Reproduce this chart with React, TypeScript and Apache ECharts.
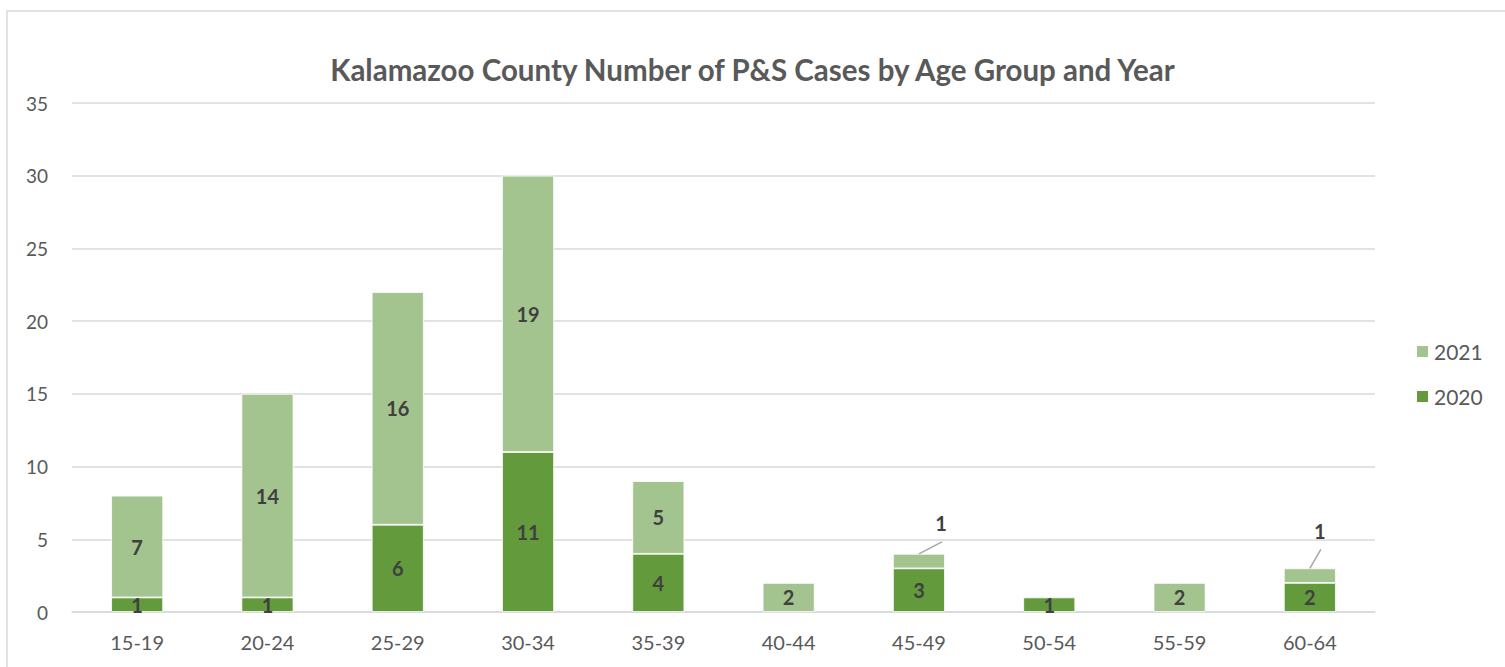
import React, { useEffect, useRef } from "react";
import * as echarts from "echarts";

const categories = ["15-19", "20-24", "25-29", "30-34", "35-39", "40-44", "45-49", "50-54", "55-59", "60-64"];
const values2020 = [1, 1, 6, 11, 4, 0, 3, 1, 0, 2];
const values2021 = [7, 14, 16, 19, 5, 2, 1, 0, 2, 1];
const yTicks = { min: 0, max: 35, interval: 5 };

const FONT = "Lato, 'Noto Sans', sans-serif";
const DARK = "#629a3c";
const LIGHT = "#a3c48f";

export default function App() {
  const ref = useRef<HTMLDivElement>(null);
  useEffect(() => {
    if (!ref.current) return;
    const chart = echarts.init(ref.current, null, { renderer: "svg" });
    const labelBase = {
      show: true,
      position: "inside" as const,
      fontFamily: FONT,
      fontSize: 20,
      fontWeight: "bold" as const,
      color: "#404040",
      formatter: (p: any) => (p.value ? String(p.value) : ""),
    };
    const outsideIdx = [6, 9];
    const callout: Record<number, { lx: number; ly: number; ex: number; ey: number }> = {
      6: { lx: 22, ly: -31, ex: 23, ey: -12 },
      9: { lx: 10, ly: -37, ex: 11, ey: -19 },
    };
    const calloutData = outsideIdx.map((i) => [i, values2020[i] + values2021[i]]);
    chart.setOption({
      animation: false,
      textStyle: { fontFamily: FONT },
      title: {
        text: "Kalamazoo County Number of P&S Cases by Age Group and Year",
        left: "center",
        top: 49,
        textStyle: { fontFamily: FONT, fontSize: 29.5, fontWeight: "bold", color: "#595959" },
      },
      legend: {
        orient: "vertical",
        left: 1410,
        top: 336,
        itemGap: 24,
        itemWidth: 13,
        itemHeight: 13,
        icon: "rect",
        data: ["2021", "2020"],
        textStyle: { fontFamily: FONT, fontSize: 21, color: "#595959" },
      },
      graphic: [
        {
          type: "rect",
          shape: { x: 7, y: 11, width: 1530, height: 700 },
          style: { fill: "none", stroke: "#d9d9d9", lineWidth: 1.5 },
          silent: true,
        },
      ],
      grid: { left: 72, right: 130, top: 103, bottom: 55, containLabel: false },
      xAxis: {
        type: "category",
        data: categories,
        axisLine: { lineStyle: { color: "#d9d9d9", width: 1.5 } },
        axisTick: { show: false },
        axisLabel: { color: "#595959", fontSize: 20, fontFamily: FONT, margin: 20 },
      },
      yAxis: {
        type: "value",
        min: yTicks.min,
        max: yTicks.max,
        interval: yTicks.interval,
        axisLine: { show: false },
        axisTick: { show: false },
        splitLine: { lineStyle: { color: "#d9d9d9", width: 1.5 } },
        axisLabel: { color: "#595959", fontSize: 19, fontFamily: FONT, margin: 24 },
      },
      series: [
        {
          name: "2020",
          type: "bar",
          stack: "total",
          barWidth: 52,
          itemStyle: { color: DARK, borderColor: "#ffffff", borderWidth: 0.8 },
          label: labelBase,
          data: values2020.map((v) => (v === 0 ? "-" : v)),
        },
        {
          name: "2021",
          type: "bar",
          stack: "total",
          barWidth: 52,
          itemStyle: { color: LIGHT, borderColor: "#ffffff", borderWidth: 0.8 },
          label: labelBase,
          labelLayout: (p: any) => {
            const c = callout[p.dataIndex];
            if (!c || !p.rect) return {};
            const cx = p.rect.x + p.rect.width / 2;
            return { x: cx + c.lx, y: p.rect.y + c.ly, align: "center", verticalAlign: "middle" };
          },
          data: values2021.map((v) => (v === 0 ? "-" : v)),
        },
        {
          name: "callouts",
          type: "custom",
          silent: true,
          z: 5,
          data: calloutData,
          renderItem: (params: any, api: any) => {
            const idx = api.value(0);
            const c = callout[idx];
            const pt = api.coord([idx, api.value(1)]);
            return {
              type: "line",
              shape: { x1: pt[0], y1: pt[1], x2: pt[0] + c.ex, y2: pt[1] + c.ey },
              style: { stroke: "#a6a6a6", lineWidth: 1.5 },
            };
          },
        },
      ],
    });
    return () => chart.dispose();
  }, []);
  return (
    <div
      ref={ref}
      style={{ position: "fixed", left: 0, top: 0, width: 1505, height: 667, background: "#fff" }}
    />
  );
}
